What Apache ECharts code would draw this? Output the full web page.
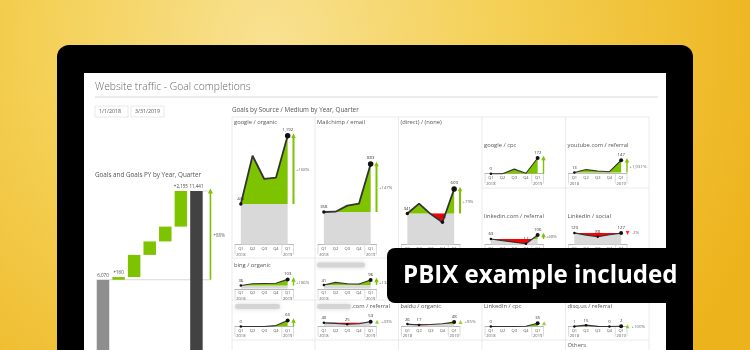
<!DOCTYPE html>
<html>
<head>
<meta charset="utf-8">
<script src="https://cdn.jsdelivr.net/npm/echarts@6/dist/echarts.min.js"></script>
<style>
html,body{margin:0;padding:0;background:#fff;}
#chart{width:750px;height:350px;}
</style>
</head>
<body>
<div id="chart"></div>
<script>
// ================= DATA =================
const quarterLabels = ['Q1', 'Q2', 'Q3', 'Q4', 'Q1'];
const yearLabels = ['2018', '', '', '', '2019'];

// Waterfall: Goals and Goals PY by Year, Quarter
const waterfallCategories = ['PY', 'Q1 2018', 'Q2 2018', 'Q3 2018', 'Q4 2018', 'Q1 2019', 'Total'];
const goalsPY = 6070;
const goalsDelta = [160, 1343, 815, 898, 2155];

// Small multiples: Goals by Source / Medium (Q1 2018 .. Q1 2019)
const sourceMediums = [
  'google / organic', 'Mailchimp / email', '(direct) / (none)',
  'google / cpc', 'youtube.com / referral',
  'linkedin.com / referral', 'LinkedIn / social',
  'bing / organic', '', '', '.com / referral',
  'baidu / organic', 'LinkedIn / cpc', 'disq.us / referral'
];
const googleOrganic       = [445, 973, 719, 733, 1192];
const mailchimpEmail      = [358, 361, 427, 449, 883];
const directNone          = [341, 449, 335, 245, 609];
const googleCpc           = [0, 0, 50, 5, 172];
const youtubeReferral     = [13, 45, 30, 22, 147];
const linkedinComReferral = [63, 45, 28, 11, 106];
const linkedinSocial      = [129, 105, 88, 108, 127];
const bingOrganic         = [36, 55, 58, 60, 103];
const hiddenSourceA       = [41, 70, 55, 52, 96];
const hiddenSourceB       = [0, 0, 0, 10, 65];
const comReferral         = [40, 34, 25, 30, 53];
const baiduOrganic        = [26, 17, 22, 30, 48];
const linkedinCpc         = [0, 0, 0, 3, 35];
const disqusReferral      = [1, 15, 1, 0, 2];
const othersLabel = 'Others';

// ================= STYLE / LAYOUT =================
const FONT = "'Segoe UI','Open Sans','Noto Sans',sans-serif";
const GREEN = '#7dc300', RED = '#ff0000', GRAYAREA = '#d9d9d9', LINE = '#333333';
const UPP = 10.94; // shared value units per pixel across all small multiples
const colX = [232, 315, 398.5, 482, 565.5, 649];
const cellLayout = [
  {col:0, axisY:244.7, h:115, titleY:122},
  {col:1, axisY:244.7, h:115, titleY:122},
  {col:2, axisY:244.7, h:115, titleY:122},
  {col:3, axisY:173.7, h:20, titleY:145},
  {col:4, axisY:173.7, h:20, titleY:145},
  {col:3, axisY:244.7, h:14, titleY:216},
  {col:4, axisY:244.7, h:14, titleY:216},
  {col:0, axisY:288.8, h:12, titleY:265},
  {col:1, axisY:288.8, h:12, titleY:265, blur:[317, 365]},
  {col:0, axisY:326.5, h:8, titleY:306.5, blur:[235, 280]},
  {col:1, axisY:326.5, h:8, titleY:306.5, blur:[317, 351], titleX:351.5},
  {col:2, axisY:326.5, h:8, titleY:306.5},
  {col:3, axisY:326.5, h:8, titleY:306.5},
  {col:4, axisY:326.5, h:8, titleY:306.5}
];
const cellValues = [googleOrganic, mailchimpEmail, directNone, googleCpc, youtubeReferral,
  linkedinComReferral, linkedinSocial, bingOrganic, hiddenSourceA, hiddenSourceB,
  comReferral, baiduOrganic, linkedinCpc, disqusReferral];

const fmt = v => Math.round(v).toLocaleString('en-US');

const chart = echarts.init(document.getElementById('chart'), null, {renderer:'canvas', width:750, height:350});

const grid = [], xAxis = [], yAxis = [], series = [];

// ---------- Waterfall ----------
const wfTotal = goalsPY + goalsDelta.reduce((a, b) => a + b, 0);
const wfVisible = [goalsPY, ...goalsDelta, wfTotal];
const wfBase = [0];
let run = goalsPY;
goalsDelta.forEach(d => { wfBase.push(run); run += d; });
wfBase.push(0);

// plot is 189px tall from zero line to total, but only the top 159px are on screen
const WF_TOP = 191, WF_FULL = 189, WF_VISIBLE = 159;
grid.push({left:95.2, top:WF_TOP, width:124.6, height:WF_VISIBLE});
xAxis.push({type:'category', gridIndex:0, data:[...waterfallCategories, ''], show:false});
xAxis.push({type:'value', gridIndex:0, min:-0.5, max:7.5, show:false});
yAxis.push({type:'value', gridIndex:0, min:wfTotal * (WF_FULL - WF_VISIBLE) / WF_FULL, max:wfTotal, show:false});

series.push({type:'line', xAxisIndex:1, yAxisIndex:0, data:[[0.4, goalsPY],[6.9, goalsPY]], symbol:'none',
  lineStyle:{color:'#d0d0d0', width:0.8}, z:1, silent:true, clip:false});
series.push({type:'line', xAxisIndex:1, yAxisIndex:0, data:[[6.4, wfTotal],[6.9, wfTotal]], symbol:'none',
  lineStyle:{color:'#d0d0d0', width:0.8}, z:1, silent:true, clip:false});
series.push({type:'bar', xAxisIndex:0, yAxisIndex:0, stack:'wf', barWidth:12.5, data:wfBase,
  itemStyle:{color:'rgba(0,0,0,0)'}, silent:true, z:2});
const lastDelta = goalsDelta.length;
series.push({type:'bar', xAxisIndex:0, yAxisIndex:0, stack:'wf', barWidth:12.5, z:3,
  data: wfVisible.map((v, i) => {
    const isTotal = i === wfVisible.length - 1;
    const color = i === 0 ? '#8e8e8e' : (isTotal ? '#424242' : GREEN);
    const showLabel = i === 0 || i === 1 || i === lastDelta || isTotal;
    const txt = (i === 0 || isTotal) ? fmt(v) : '+' + fmt(v);
    return {value:v, itemStyle:{color}, label:{show:showLabel, formatter:txt}};
  }),
  label:{position:'top', distance:1.5, fontSize:4.5, color:'#444', fontFamily:FONT}
});
series.push({type:'line', xAxisIndex:1, yAxisIndex:0, clip:false, z:4,
  data:[{value:[6.9, goalsPY], symbol:'none'}, {value:[6.9, wfTotal], symbol:'triangle', symbolSize:[5, 5]}],
  lineStyle:{color:GREEN, width:1.6}, itemStyle:{color:GREEN}, showSymbol:true});
series.push({type:'scatter', xAxisIndex:1, yAxisIndex:0, clip:false, z:4, symbolSize:0,
  data:[[6.9, (goalsPY + wfTotal) / 2]],
  label:{show:true, position:'right', distance:3, fontSize:4.5, color:'#444', fontFamily:FONT,
    formatter: '+' + fmt((wfTotal - goalsPY) / goalsPY * 100) + '%'}});

// ---------- Small multiples ----------
function paths(vals) {
  const v0 = vals[0], up = [], dn = [];
  for (let i = 0; i < vals.length; i++) {
    const v = vals[i];
    up.push([i, Math.max(v, v0)]); dn.push([i, Math.min(v, v0)]);
    if (i < vals.length - 1) {
      const w = vals[i + 1];
      if ((v - v0) * (w - v0) < 0) {
        const t = (v0 - v) / (w - v);
        up.push([i + t, v0]); dn.push([i + t, v0]);
      }
    }
  }
  return {up, dn};
}

cellLayout.forEach((c, k) => {
  const vals = cellValues[k];
  const g = grid.length;
  const L = colX[c.col];
  grid.push({left:L + 3, top:c.axisY - c.h, width:58.5, height:c.h});
  xAxis.push({type:'category', gridIndex:g, data:quarterLabels, boundaryGap:true,
    axisLine:{lineStyle:{color:'#9a9a9a', width:0.7}},
    axisTick:{length:2, lineStyle:{color:'#c4c4c4', width:0.6}},
    axisLabel:{fontSize:4, color:'#555', margin:1.5, lineHeight:5.5, interval:0, fontFamily:FONT,
      formatter:(v, i) => yearLabels[i] ? v + '\n' + yearLabels[i] : v}});
  const xv = xAxis.length;
  xAxis.push({type:'value', gridIndex:g, min:-0.5, max:4.5, show:false});
  const yi = yAxis.length;
  yAxis.push({type:'value', gridIndex:g, min:0, max:c.h * UPP, show:false});

  const v0 = vals[0], vl = vals[vals.length - 1];
  const p = paths(vals);
  const smallLine = c.h < 100;
  // year separators
  [-0.5, 3.5, 4.5].forEach(x => series.push({type:'line', xAxisIndex:xv, yAxisIndex:yi, clip:false, silent:true, symbol:'none', z:1,
    data:[[x, 0], [x, -10 * UPP]], lineStyle:{color:'#c4c4c4', width:0.6}}));
  // gray base (first-quarter level down to axis)
  series.push({type:'line', xAxisIndex:xv, yAxisIndex:yi, data:[[0, v0], [vals.length - 1, v0]], symbol:'none', silent:true, z:2,
    lineStyle:{width:0}, areaStyle:{color:GRAYAREA, opacity:1, origin:'start'}});
  // green: line above baseline
  series.push({type:'line', xAxisIndex:xv, yAxisIndex:yi, data:p.up, symbol:'none', silent:true, z:3,
    lineStyle:{width:0}, areaStyle:{color:GREEN, opacity:1, origin:v0}});
  // red: line below baseline
  series.push({type:'line', xAxisIndex:xv, yAxisIndex:yi, data:p.dn, symbol:'none', silent:true, z:4,
    lineStyle:{width:0}, areaStyle:{color:RED, opacity:1, origin:v0}});
  // main line
  const mn = vals.indexOf(Math.min(...vals)), mx = vals.indexOf(Math.max(...vals));
  const labeled = new Set([0, vals.length - 1, mn, mx]);
  series.push({type:'line', xAxisIndex:xv, yAxisIndex:yi, z:5, clip:false, showSymbol:true, symbol:'circle',
    lineStyle:{color:LINE, width:smallLine ? 1.1 : 1.8}, itemStyle:{color:'#111'},
    data: vals.map((v, i) => ({value:[i, v],
      symbolSize: i === vals.length - 1 ? (smallLine ? 4 : 5.5) : (labeled.has(i) ? (smallLine ? 2.5 : 3.4) : 0),
      label:{show:labeled.has(i)}})),
    label:{position:'top', distance:1.5, fontSize:4.3, color:'#333', fontFamily:FONT,
      formatter: prm => fmt(prm.value[1])}});
  // variance arrow / triangle
  const dpx = Math.abs(vl - v0) / UPP;
  const pctTxt = v0 === 0 ? '' : ((vl >= v0 ? '+' : '-') + fmt(Math.abs(vl - v0) / v0 * 100) + '%');
  const col = vl >= v0 ? GREEN : RED;
  if (dpx >= 3.5) {
    series.push({type:'line', xAxisIndex:xv, yAxisIndex:yi, clip:false, z:5, showSymbol:true,
      data:[{value:[4.5, v0], symbol:'none'}, {value:[4.5, vl], symbol:'triangle', symbolSize:[4.5, 4.5], symbolRotate: vl >= v0 ? 0 : 180}],
      lineStyle:{color:col, width:smallLine ? 1.4 : 2}, itemStyle:{color:col}});
    series.push({type:'scatter', xAxisIndex:xv, yAxisIndex:yi, clip:false, z:5, symbolSize:0,
      data:[[4.5, (v0 + vl) / 2]],
      label:{show:pctTxt !== '', position:'right', distance:2.5, fontSize:4.3, color:'#444', fontFamily:FONT, formatter:pctTxt}});
  } else {
    series.push({type:'scatter', xAxisIndex:xv, yAxisIndex:yi, clip:false, z:5,
      symbol:'triangle', symbolSize:4, symbolRotate: vl >= v0 ? 0 : 180, itemStyle:{color:col},
      data:[[4.55, Math.max(v0, vl)]],
      label:{show:pctTxt !== '', position:'right', distance:2, fontSize:4.3, color:'#444', fontFamily:FONT, formatter:pctTxt}});
  }
});

// ---------- Graphic decorations ----------
const graphic = [];
graphic.push({type:'rect', z:-10, shape:{x:0, y:0, width:750, height:350},
  style:{fill:new echarts.graphic.RadialGradient(270, 40, 520, [
    {offset:0, color:'#f8e192'}, {offset:0.45, color:'#f4d055'}, {offset:1, color:'#edb31c'}], true)}});
graphic.push({type:'rect', z:-9, shape:{x:57, y:45, width:636, height:340, r:12}, style:{fill:'#000'}});
graphic.push({type:'rect', z:-8, shape:{x:84, y:73, width:582, height:300}, style:{fill:'#fff'}});
function txt(t, x, y, size, color, extra) {
  return {type:'text', z:0, x:x, y:y, style:Object.assign({text:t, fill:color, fontSize:size, fontFamily:FONT,
    align:'left', verticalAlign:'middle', textAlign:'left', textVerticalAlign:'middle'}, extra || {})};
}
graphic.push(txt('Website traffic - Goal completions', 95, 87, 10.3, '#666', {fontWeight:300}));
graphic.push({type:'line', z:0, shape:{x1:95, y1:97, x2:658, y2:97}, style:{stroke:'#d8d8d8', lineWidth:1}});
graphic.push({type:'rect', z:0, shape:{x:95, y:106, width:33, height:11}, style:{fill:'#fff', stroke:'#e2e2e2', lineWidth:0.8}});
graphic.push({type:'rect', z:0, shape:{x:131, y:106, width:33, height:11}, style:{fill:'#fff', stroke:'#e2e2e2', lineWidth:0.8}});
graphic.push(txt('1/1/2018', 99, 111.5, 5.3, '#555'));
graphic.push(txt('3/31/2019', 135, 111.5, 5.3, '#555'));
graphic.push(txt('Goals and Goals PY by Year, Quarter', 95, 175, 6.3, '#555'));
graphic.push(txt('Goals by Source / Medium by Year, Quarter', 232, 110.5, 6.3, '#555'));

// cell borders
const B = '#e4e4e4';
colX.forEach(x => graphic.push({type:'line', z:0, shape:{x1:x, y1:117, x2:x, y2:352}, style:{stroke:B, lineWidth:0.8}}));
graphic.push({type:'line', z:0, shape:{x1:232, y1:117, x2:649, y2:117}, style:{stroke:B, lineWidth:0.8}});
graphic.push({type:'line', z:0, shape:{x1:482, y1:188, x2:649, y2:188}, style:{stroke:B, lineWidth:0.8}});
[258, 300, 340].forEach(y => graphic.push({type:'line', z:0, shape:{x1:232, y1:y, x2:649, y2:y}, style:{stroke:B, lineWidth:0.8}}));

// cell titles
cellLayout.forEach((c, k) => {
  if (c.blur) {
    graphic.push({type:'rect', z:0, shape:{x:c.blur[0], y:c.titleY - 2.5, width:c.blur[1] - c.blur[0], height:5, r:2},
      style:{fill:'#cfcfcf', shadowBlur:5, shadowColor:'#cfcfcf', opacity:0.8}});
  }
  if (sourceMediums[k]) graphic.push(txt(sourceMediums[k], c.titleX || colX[c.col] + 2, c.titleY, 5.8, '#555'));
});
graphic.push(txt(othersLabel, colX[4] + 2, 345, 5.8, '#555'));

// banner
graphic.push({type:'rect', z:100, shape:{x:387, y:248, width:300, height:55, r:[8, 0, 0, 8]}, style:{fill:'#000'}});
const bannerTxt = txt('PBIX example included', 403, 276, 24.1, '#fff', {fontWeight:'bold', fontFamily:"'Open Sans','Noto Sans',sans-serif"});
bannerTxt.z = 101;
graphic.push(bannerTxt);

chart.setOption({
  animation:false,
  backgroundColor:'transparent',
  grid, xAxis, yAxis, series, graphic
});
</script>
</body>
</html>
